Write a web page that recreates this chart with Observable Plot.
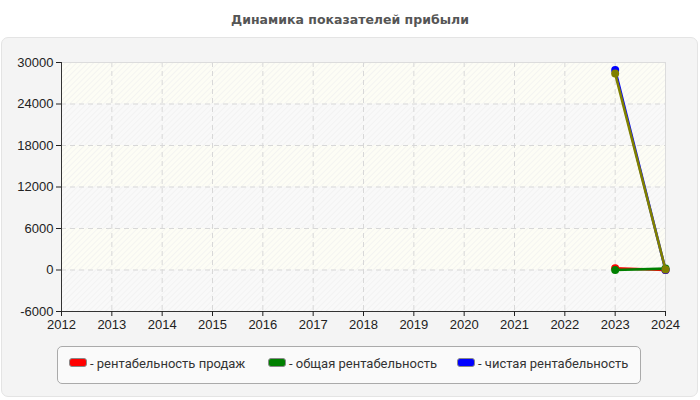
<!DOCTYPE html>
<html><head><meta charset="utf-8">
<script src="https://cdn.jsdelivr.net/npm/d3@7"></script>
<script src="https://cdn.jsdelivr.net/npm/@observablehq/plot@0.6"></script>
<style>
body{margin:0;width:700px;height:400px;background:#fff;font-family:"Liberation Sans",Arial,sans-serif;position:relative;overflow:hidden}
#title{position:absolute;top:12px;left:0;width:700px;text-align:center;font-weight:bold;font-size:12.5px;color:#555;font-family:"DejaVu Sans",sans-serif}
#panel{position:absolute;top:37px;left:1px;width:697px;height:360px;background:#f4f4f4;border:1px solid #e4e4e4;border-radius:7px;box-sizing:border-box}
#chart{position:absolute;top:37px;left:0}
#legend{position:absolute;left:57px;top:346px;width:584px;height:38px;box-sizing:border-box;border:1px solid #aaa;border-radius:5px;background:#fafafa;font-size:13px;color:#333;font-family:Roboto,sans-serif}
.item{position:absolute;top:9px;white-space:nowrap}
.sw{display:inline-block;width:16px;height:7px;border:1px solid #888;border-radius:3px;vertical-align:1px;margin-right:3px}
</style></head><body>
<div id="title">Динамика показателей прибыли</div>
<div id="panel"></div>
<div id="chart"></div>
<div id="legend"></div>
<script>
const years = [2012,2013,2014,2015,2016,2017,2018,2019,2020,2021,2022,2023,2024];
const yTicks = [-6000,0,6000,12000,18000,24000,30000];
const seriesNames = ["рентабельность продаж","общая рентабельность","чистая рентабельность",""];
const seriesColors = ["#ff0000","#008000","#0000ff","#808000"];
const dataYears = [2023,2024];
const salesProfitability = [250,0];
const totalProfitability = [0,200];
const netProfitability = [28900,0];
const extraSeries = [28400,60];
const bandStarts = [-6000,0,6000,12000,18000,24000];

const allSeries = [salesProfitability,totalProfitability,netProfitability,extraSeries];
const rows = [];
allSeries.forEach((vals,i)=>vals.forEach((v,j)=>rows.push({s:i,year:dataYears[j],value:v})));
const bands = bandStarts.map((b,i)=>({y1:b,y2:b+6000,alt:i%2===0}));

const marks = [
  Plot.rect(bands,{x1:2012,x2:2024,y1:"y1",y2:"y2",fill:d=>d.alt?"#f9f9f9":"#fdfdf5"}),
  Plot.rect(bands,{x1:2012,x2:2024,y1:"y1",y2:"y2",fill:"url(#hatch)"}),
  Plot.gridY(yTicks,{stroke:"#d8d8d8",strokeOpacity:1,strokeDasharray:"5,4"}),
  Plot.gridX(years,{stroke:"#d8d8d8",strokeOpacity:1,strokeDasharray:"5,4"}),
  Plot.frame({stroke:"#dcdcdc"}),
  Plot.ruleX([2012],{stroke:"#333"}),
  Plot.ruleY([-6000],{stroke:"#333"}),
  Plot.axisY({ticks:yTicks,tickSize:5,tickPadding:3,tickFormat:d=>String(d),fontSize:13,color:"#222"}),
  Plot.axisX({ticks:years,tickSize:5,tickPadding:3,tickFormat:d=>String(d),fontSize:13,color:"#222"})
];
for(let i=0;i<allSeries.length;i++){
  const d = rows.filter(r=>r.s===i);
  marks.push(Plot.line(d,{x:"year",y:"value",stroke:seriesColors[i],strokeWidth:2.6}));
  marks.push(Plot.dot(d,{x:"year",y:"value",fill:seriesColors[i],r:4}));
}
const svg = Plot.plot({
  width:700,height:300,
  marginTop:25,marginLeft:61,marginRight:35,marginBottom:26,
  style:{background:"transparent",fontFamily:"'Liberation Sans',Arial,sans-serif",fontSize:"13px"},
  x:{domain:[2012,2024],label:null},
  y:{domain:[-6000,30000],label:null},
  marks
});
const ns="http://www.w3.org/2000/svg";
const defs=document.createElementNS(ns,"defs");
defs.innerHTML='<pattern id="hatch" width="4" height="4" patternUnits="userSpaceOnUse" patternTransform="rotate(45)"><line x1="0" y1="0" x2="0" y2="4" stroke="#efefef" stroke-width="1.2"/></pattern>';
svg.insertBefore(defs,svg.firstChild);
document.getElementById("chart").appendChild(svg);

const leg=document.getElementById("legend");
const lefts=[11,210,399];
seriesNames.slice(0,3).forEach((n,i)=>{
  const it=document.createElement("div");
  it.className="item";it.style.left=lefts[i]+"px";
  it.innerHTML='<span class="sw" style="background:'+seriesColors[i]+'"></span>- '+n;
  leg.appendChild(it);
});
</script>
</body></html>
